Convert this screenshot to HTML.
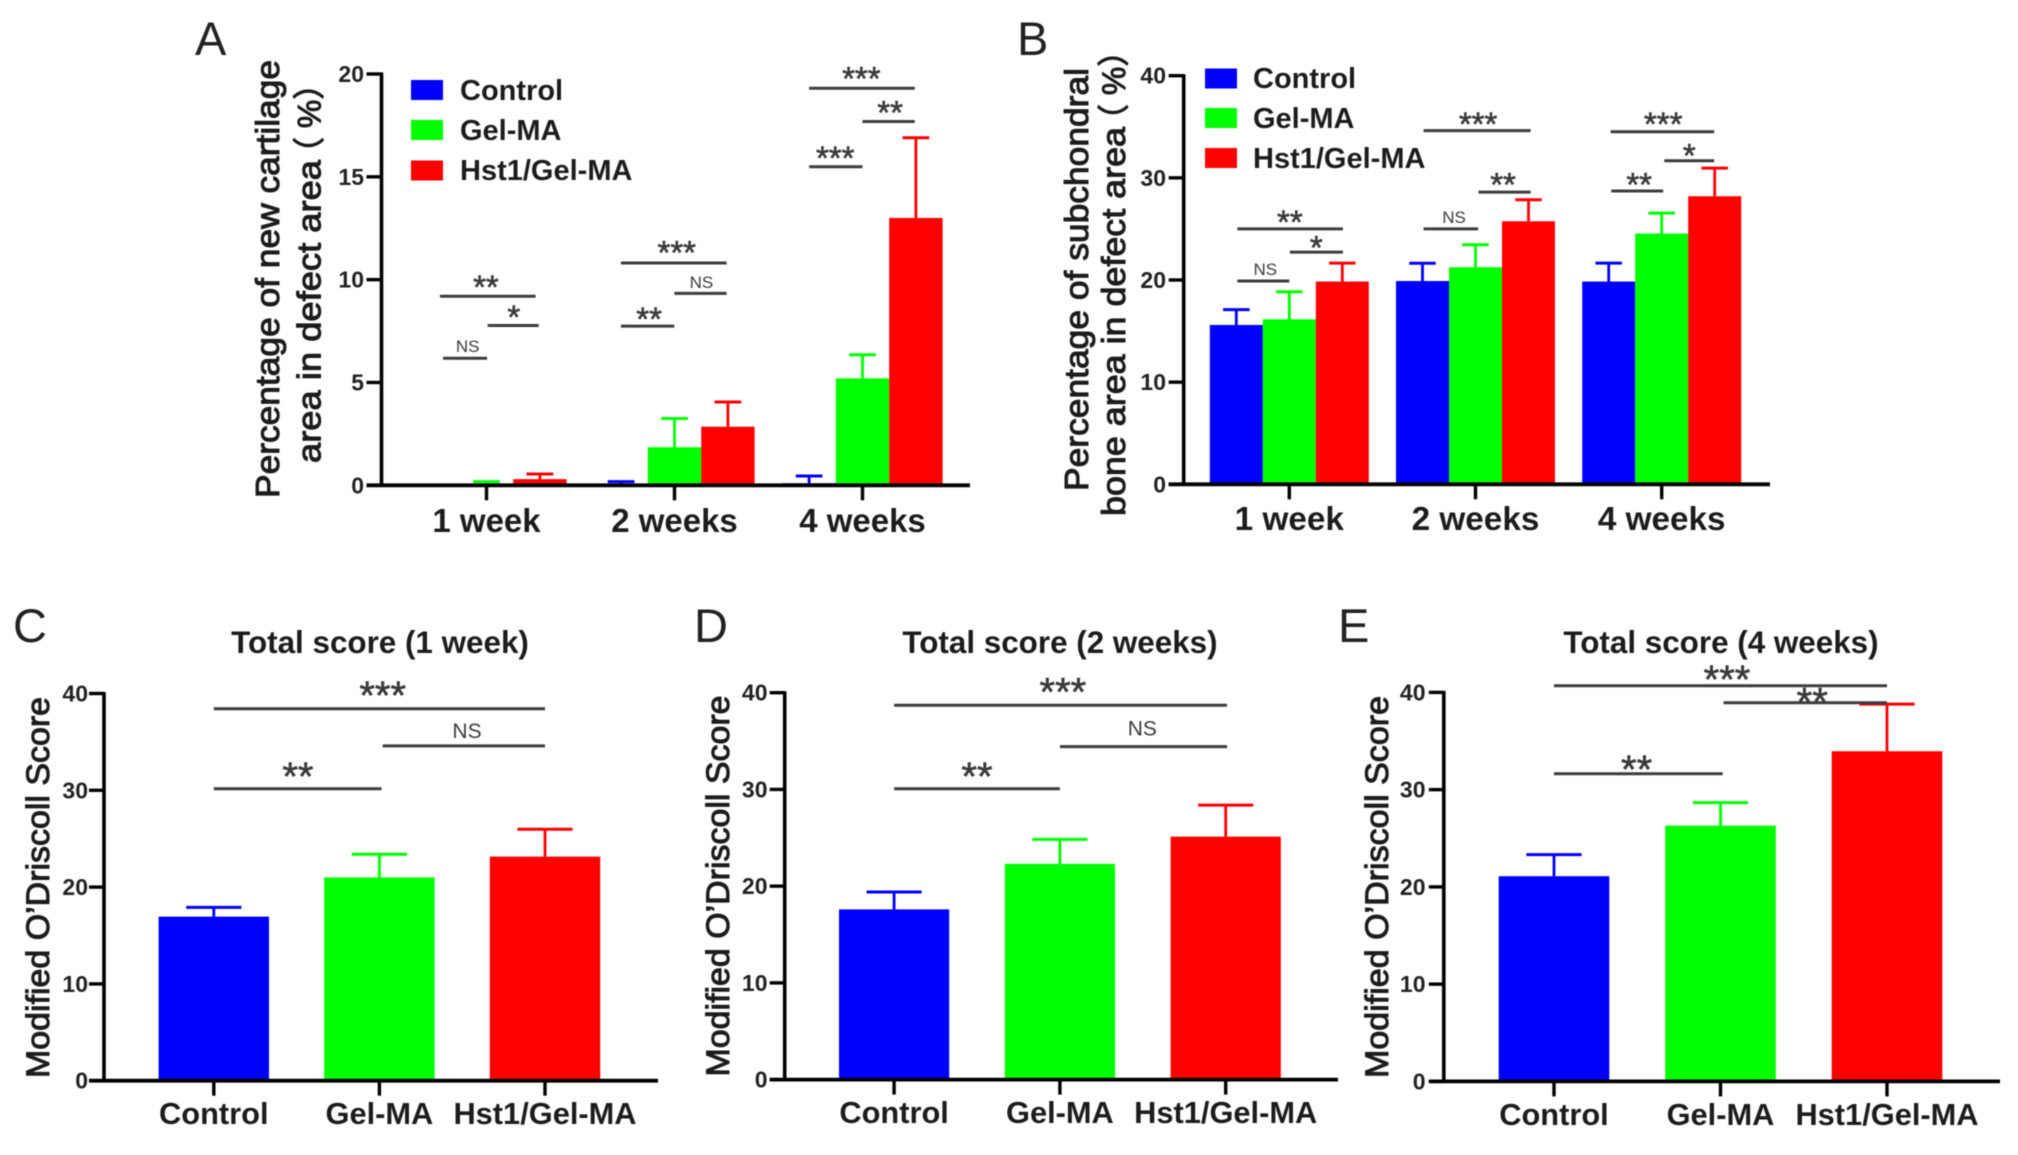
<!DOCTYPE html>
<html lang="en">
<head>
<meta charset="utf-8">
<title>Cartilage and bone repair charts</title>
<style>
html,body{margin:0;padding:0;background:#fff;}
svg{display:block;filter:blur(.6px);}
text{font-family:"Liberation Sans","Noto Sans CJK SC",sans-serif;fill:#1c1c1c;}
.letter{font-size:47px;font-weight:normal;fill:#222;}
.legend{font-size:29px;font-weight:bold;}
.title{font-size:31.4px;font-weight:bold;text-anchor:middle;}
.ytitle{font-weight:normal;text-anchor:middle;stroke:#1c1c1c;stroke-width:1;}
.ytitle-start{font-weight:normal;text-anchor:start;stroke:#1c1c1c;stroke-width:1;}
</style>
</head>
<body>
<svg id="figure" xmlns="http://www.w3.org/2000/svg" width="2018" height="1155" viewBox="0 0 2018 1155">
<rect x="0" y="0" width="2018" height="1155" fill="#fff"/>

<g id="panel-a">
  <text class="letter" x="195" y="55">A</text>
  <text class="ytitle" font-size="33" transform="translate(279,279) rotate(-90)" textLength="438" lengthAdjust="spacingAndGlyphs">Percentage of new cartilage</text>
  <text class="ytitle-start" font-size="33" transform="translate(320.5,463) rotate(-90)" textLength="303" lengthAdjust="spacingAndGlyphs">area in defect area</text>
  <text class="ytitle-start" font-size="32" transform="translate(320.5,169) rotate(-90)">（ %）</text>
  <g>
    <rect x="411" y="80" width="32" height="20" fill="#0000ff"/>
    <text class="legend" x="460" y="100">Control</text>
    <rect x="411" y="120" width="32" height="20" fill="#00ff00"/>
    <text class="legend" x="460" y="140">Gel-MA</text>
    <rect x="411" y="160.5" width="32" height="20" fill="#ff0000"/>
    <text class="legend" x="460" y="180">Hst1/Gel-MA</text>
  </g>
</g>

<g id="panel-b">
  <text class="letter" x="1017" y="55">B</text>
  <text class="ytitle" font-size="33" transform="translate(1088,279.5) rotate(-90)" textLength="423" lengthAdjust="spacingAndGlyphs">Percentage of subchondral</text>
  <text class="ytitle-start" font-size="33" transform="translate(1125,516) rotate(-90)" textLength="389" lengthAdjust="spacingAndGlyphs">bone area in defect area</text>
  <text class="ytitle-start" font-size="32" transform="translate(1125,136) rotate(-90)">（ %）</text>
  <g>
    <rect x="1205" y="68.5" width="32" height="20" fill="#0000ff"/>
    <text class="legend" x="1253" y="88">Control</text>
    <rect x="1205" y="108" width="32" height="20" fill="#00ff00"/>
    <text class="legend" x="1253" y="128">Gel-MA</text>
    <rect x="1205" y="148" width="32" height="20" fill="#ff0000"/>
    <text class="legend" x="1253" y="168">Hst1/Gel-MA</text>
  </g>
</g>

<g id="panel-c">
  <text class="letter" x="13" y="642">C</text>
  <text class="title" x="380" y="653">Total score (1 week)</text>
  <text class="ytitle" font-size="32" transform="translate(49,887.5) rotate(-90)" textLength="381" lengthAdjust="spacingAndGlyphs">Modified O’Driscoll Score</text>
</g>

<g id="panel-d">
  <text class="letter" x="694" y="642">D</text>
  <text class="title" x="1060" y="653">Total score (2 weeks)</text>
  <text class="ytitle" font-size="32" transform="translate(729,886) rotate(-90)" textLength="381" lengthAdjust="spacingAndGlyphs">Modified O’Driscoll Score</text>
</g>

<g id="panel-e">
  <text class="letter" x="1338" y="642">E</text>
  <text class="title" x="1721" y="653">Total score (4 weeks)</text>
  <text class="ytitle" font-size="32" transform="translate(1388,887) rotate(-90)" textLength="382" lengthAdjust="spacingAndGlyphs">Modified O’Driscoll Score</text>
</g>
</svg>

<script>
const weekCategories = ['1 week', '2 weeks', '4 weeks'];
const groupCategories = ['Control', 'Gel-MA', 'Hst1/Gel-MA'];

const panelATicks = [0, 5, 10, 15, 20];
const panelAControl = [0, 0, 0.1];
const panelAControlError = [0, 0.18, 0.35];
const panelAGelMA = [0, 1.85, 5.2];
const panelAGelMAError = [0.18, 1.4, 1.15];
const panelAHst1 = [0.3, 2.85, 13];
const panelAHst1Error = [0.25, 1.2, 3.9];
const panelASignificance = [
  { from: -0.248, to: 0.261, level: 9.19, label: '**', labelAt: -0.003, labelLevel: 9.85 },
  { from: 0.006, to: 0.278, level: 7.77, label: '*', labelAt: 0.145, labelLevel: 8.4 },
  { from: -0.231, to: 0.003, level: 6.18, label: 'NS', labelAt: -0.1, labelLevel: 6.78 },
  { from: 0.715, to: 1.277, level: 10.81, label: '***', labelAt: 1.012, labelLevel: 11.54 },
  { from: 0.999, to: 1.277, level: 9.33, label: 'NS', labelAt: 1.143, labelLevel: 9.88 },
  { from: 0.715, to: 0.999, level: 7.74, label: '**', labelAt: 0.865, labelLevel: 8.29 },
  { from: 1.716, to: 2.278, level: 19.31, label: '***', labelAt: 1.994, labelLevel: 20 },
  { from: 2.0, to: 2.278, level: 17.69, label: '**', labelAt: 2.147, labelLevel: 18.35 },
  { from: 1.716, to: 2.0, level: 15.49, label: '***', labelAt: 1.855, labelLevel: 16.13 }
];

const panelBTicks = [0, 10, 20, 30, 40];
const panelBControl = [15.6, 19.9, 19.85];
const panelBControlError = [1.5, 1.74, 1.8];
const panelBGelMA = [16.15, 21.25, 24.55];
const panelBGelMAError = [2.7, 2.2, 2.0];
const panelBHst1 = [19.85, 25.75, 28.2];
const panelBHst1Error = [1.8, 2.1, 2.75];
const panelBSignificance = [
  { from: -0.279, to: 0.288, level: 25.0, label: '**', labelAt: 0.003, labelLevel: 26.1 },
  { from: 0.003, to: 0.288, level: 22.73, label: '*', labelAt: 0.145, labelLevel: 23.6 },
  { from: -0.279, to: 0, level: 19.9, label: 'NS', labelAt: -0.129, labelLevel: 21.1 },
  { from: 0.721, to: 1.296, level: 34.62, label: '***', labelAt: 1.014, labelLevel: 35.7 },
  { from: 1.016, to: 1.296, level: 28.6, label: '**', labelAt: 1.148, labelLevel: 29.75 },
  { from: 0.721, to: 1.014, level: 25.0, label: 'NS', labelAt: 0.885, labelLevel: 26.2 },
  { from: 1.726, to: 2.282, level: 34.51, label: '***', labelAt: 2.008, labelLevel: 35.7 },
  { from: 2.014, to: 2.282, level: 31.68, label: '*', labelAt: 2.148, labelLevel: 32.6 },
  { from: 1.729, to: 2.008, level: 28.71, label: '**', labelAt: 1.879, labelLevel: 29.75 }
];

const panelCTicks = [0, 10, 20, 30, 40];
const panelCValues = [16.95, 21.0, 23.15];
const panelCErrors = [0.95, 2.4, 2.83];
const panelCSignificance = [
  { from: 0, to: 2, level: 38.43, label: '***', labelAt: 1.02, labelLevel: 40.4 },
  { from: 1.02, to: 2, level: 34.59, label: 'NS', labelAt: 1.529, labelLevel: 36.2 },
  { from: 0, to: 1.013, level: 30.16, label: '**', labelAt: 0.508, labelLevel: 32.0 }
];

const panelDTicks = [0, 10, 20, 30, 40];
const panelDValues = [17.6, 22.3, 25.12];
const panelDErrors = [1.8, 2.53, 3.26];
const panelDSignificance = [
  { from: 0, to: 2.008, level: 38.7, label: '***', labelAt: 1.018, labelLevel: 40.66 },
  { from: 1, to: 2.008, level: 34.43, label: 'NS', labelAt: 1.497, labelLevel: 36.37 },
  { from: 0, to: 1, level: 30.07, label: '**', labelAt: 0.5, labelLevel: 31.9 }
];

const panelETicks = [0, 10, 20, 30, 40];
const panelEValues = [21.1, 26.3, 33.95];
const panelEErrors = [2.22, 2.37, 4.85];
const panelESignificance = [
  { from: 0, to: 2, level: 40.69, label: '***', labelAt: 1.039, labelLevel: 41.93 },
  { from: 1.018, to: 2, level: 38.94, label: '**', labelAt: 1.551, labelLevel: 39.6 },
  { from: 0, to: 1.013, level: 31.63, label: '**', labelAt: 0.496, labelLevel: 32.68 }
];

const BLUE = '#0000ff';
const GREEN = '#00ff00';
const RED = '#ff0000';
const SVGNS = 'http://www.w3.org/2000/svg';

function make(tag, attrs, parent) {
  const node = document.createElementNS(SVGNS, tag);
  Object.keys(attrs).forEach(function (k) { node.setAttribute(k, attrs[k]); });
  parent.appendChild(node);
  return node;
}

function drawPanel(layout, categories, series, ticks, significance) {
  const root = document.getElementById(layout.id);
  const yScale = function (v) { return layout.yZero - (v / layout.max) * (layout.yZero - layout.yTop); };
  const xScale = function (pos) { return layout.firstCenter + pos * layout.spacing; };

  series.forEach(function (s, sIndex) {
    s.values.forEach(function (value, i) {
      const offset = (sIndex - (series.length - 1) / 2) * layout.barWidth;
      const cx = xScale(i) + offset;
      const colour = s.colours[i % s.colours.length];
      const topError = yScale(value + s.errors[i]);

      const stem = make('line', { x1: cx, x2: cx, y1: yScale(value), y2: topError, stroke: colour, 'stroke-width': 2.8 }, root);
      
      

      const cap = make('line', { x1: cx - layout.barWidth / 4, x2: cx + layout.barWidth / 4, y1: topError, y2: topError, stroke: colour, 'stroke-width': 3 }, root);
      
      

      const bar = make('rect', { x: cx - layout.barWidth / 2, y: yScale(value), width: layout.barWidth, height: yScale(0) - yScale(value), fill: colour }, root);
      
      
    });
  });

  const yAxis = make('line', { x1: layout.axisX, x2: layout.axisX, y1: layout.yTop - 1.5, y2: layout.yZero + 1.5, stroke: '#000', 'stroke-width': 3.6 }, root);
  
  

  const xAxis = make('line', { x1: layout.axisX - 15, x2: layout.right, y1: layout.yZero, y2: layout.yZero, stroke: '#000', 'stroke-width': 3.8 }, root);
  
  

  ticks.forEach(function (t) {
    const y = yScale(t);
    const tick = make('line', { x1: layout.axisX - 15, x2: layout.axisX, y1: y, y2: y, stroke: '#000', 'stroke-width': 3.4 }, root);
    
    

    const label = make('text', { x: layout.tickRight, y: y + 8, 'text-anchor': 'end', 'font-size': 23, 'font-weight': 'bold', style: 'fill:#222' }, root);
    label.textContent = String(t);
    
    
  });

  categories.forEach(function (c, i) {
    const x = xScale(i);
    const tick = make('line', { x1: x, x2: x, y1: layout.yZero, y2: layout.yZero + 15, stroke: '#000', 'stroke-width': 3.4 }, root);
    
    

    const label = make('text', { x: x, y: layout.catBaseline, 'text-anchor': 'middle', 'font-size': layout.catFont, 'font-weight': 'bold' }, root);
    label.textContent = c;
    
    
  });

  significance.forEach(function (b) {
    const y = yScale(b.level);
    const bracket = make('line', { x1: xScale(b.from), x2: xScale(b.to), y1: y, y2: y, stroke: '#3c3c3c', 'stroke-width': 3 }, root);
    
    

    const isNS = b.label === 'NS';
    const size = isNS ? layout.nsFont : layout.starFont;
    const baseline = yScale(b.labelLevel) + (isNS ? 0.36 * size : 0.48 * size);
    const style = isNS ? 'fill:#3a3a3a' : 'fill:#3a3a3a;stroke:#3a3a3a;stroke-width:.6';
    const label = make('text', { x: xScale(b.labelAt), y: baseline, 'text-anchor': 'middle', 'font-size': size, style: style }, root);
    label.textContent = b.label;
    
    
  });
}

drawPanel(
  { id: 'panel-a', axisX: 381.5, yZero: 485.3, yTop: 74, max: 20, right: 970, tickRight: 364, firstCenter: 486.5, spacing: 188, barWidth: 53.4, catBaseline: 532, catFont: 33, nsFont: 17, starFont: 33 },
  weekCategories,
  [
    { values: panelAControl, errors: panelAControlError, colours: [BLUE] },
    { values: panelAGelMA, errors: panelAGelMAError, colours: [GREEN] },
    { values: panelAHst1, errors: panelAHst1Error, colours: [RED] }
  ],
  panelATicks,
  panelASignificance
);

drawPanel(
  { id: 'panel-b', axisX: 1183.7, yZero: 484.3, yTop: 75.7, max: 40, right: 1770, tickRight: 1166, firstCenter: 1289.3, spacing: 186.2, barWidth: 53, catBaseline: 530, catFont: 33.3, nsFont: 17, starFont: 33 },
  weekCategories,
  [
    { values: panelBControl, errors: panelBControlError, colours: [BLUE] },
    { values: panelBGelMA, errors: panelBGelMAError, colours: [GREEN] },
    { values: panelBHst1, errors: panelBHst1Error, colours: [RED] }
  ],
  panelBTicks,
  panelBSignificance
);

drawPanel(
  { id: 'panel-c', axisX: 104, yZero: 1080.7, yTop: 693.5, max: 40, right: 658, tickRight: 88, firstCenter: 213.8, spacing: 165.6, barWidth: 110.4, catBaseline: 1124, catFont: 30.8, nsFont: 21, starFont: 40 },
  groupCategories,
  [{ values: panelCValues, errors: panelCErrors, colours: [BLUE, GREEN, RED] }],
  panelCTicks,
  panelCSignificance
);

drawPanel(
  { id: 'panel-d', axisX: 784.7, yZero: 1079.6, yTop: 692.7, max: 40, right: 1338, tickRight: 767.5, firstCenter: 894.1, spacing: 165.8, barWidth: 110.2, catBaseline: 1123, catFont: 30.8, nsFont: 21, starFont: 40 },
  groupCategories,
  [{ values: panelDValues, errors: panelDErrors, colours: [BLUE, GREEN, RED] }],
  panelDTicks,
  panelDSignificance
);

drawPanel(
  { id: 'panel-e', axisX: 1443.8, yZero: 1081.4, yTop: 692.4, max: 40, right: 2000, tickRight: 1425.5, firstCenter: 1554, spacing: 166.5, barWidth: 110.6, catBaseline: 1125, catFont: 30.8, nsFont: 21, starFont: 40 },
  groupCategories,
  [{ values: panelEValues, errors: panelEErrors, colours: [BLUE, GREEN, RED] }],
  panelETicks,
  panelESignificance
);
</script>
</body>
</html>
